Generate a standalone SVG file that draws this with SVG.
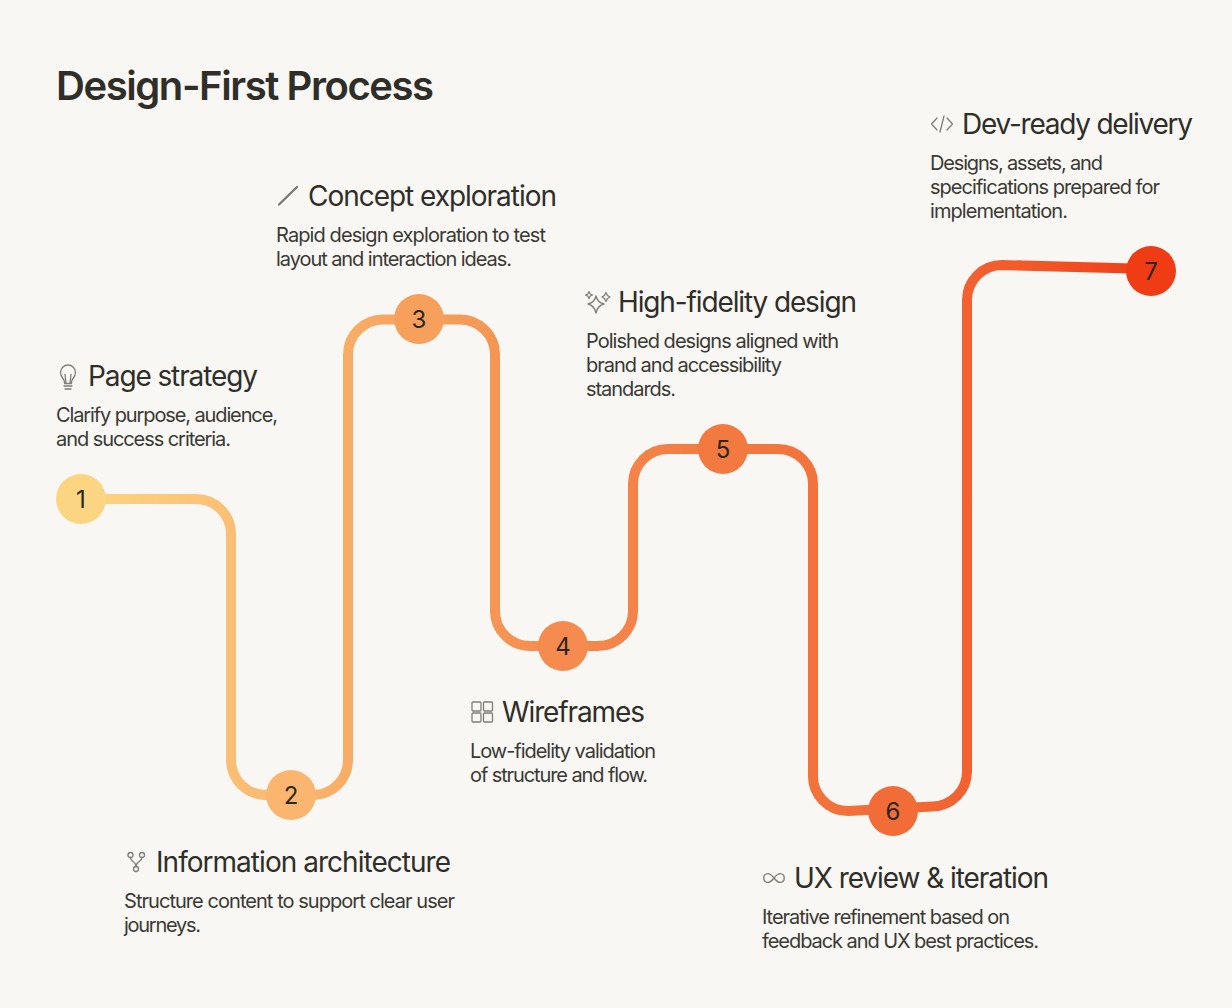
<svg xmlns="http://www.w3.org/2000/svg" width="1232" height="1008" viewBox="0 0 1232 1008">
<style>
text{font-family:Inter,"Liberation Sans",Arial,sans-serif;fill:#2f2e28}
.t{font-size:40px;font-weight:600}
.h{font-size:28px;font-weight:400}
.b{font-size:20px;fill:#3a3933;font-weight:400}
.n{font-size:24px;text-anchor:middle;fill:#2a2620}
.i{fill:none;stroke:#7f7e77;stroke-width:1.300;stroke-linecap:round;stroke-linejoin:round}
</style>
<defs>
<linearGradient id="g" gradientUnits="userSpaceOnUse" x1="81" y1="0" x2="1151" y2="0">
<stop offset="0" stop-color="#fcd583"/>
<stop offset="0.2" stop-color="#fab66e"/>
<stop offset="0.32" stop-color="#f6a05c"/>
<stop offset="0.45" stop-color="#f58b4e"/>
<stop offset="0.6" stop-color="#f27a41"/>
<stop offset="0.76" stop-color="#f26c38"/>
<stop offset="0.88" stop-color="#f25a2a"/>
<stop offset="1" stop-color="#ef3c14"/>
</linearGradient>
</defs>
<rect width="1232" height="1008" fill="#f8f7f3"/>
<text class="t" x="56" y="100" textLength="378">Design-First Process</text>
<g id="connectors">
<path fill="none" stroke="url(#g)" stroke-width="10" d="M81 499H196A35 35 0 0 1 231 534V760A35 35 0 0 0 266 795H313A35 35 0 0 0 348 760V354A35 35 0 0 1 383 319.500H460A35 35 0 0 1 495 354V611A35 35 0 0 0 530 646H598A35 35 0 0 0 633 611V484A35 35 0 0 1 668 449H778A35 35 0 0 1 813 484V775A35 35 0 0 0 848 811L932 806.500A35 35 0 0 0 967 771V300A35 35 0 0 1 1002 265L1151 269"/>
</g>
<g id="node1">
<circle cx="81" cy="499" r="25" fill="#fcd583"/><text class="n" x="81" y="508">1</text>
<path class="i" d="M64 386h8M65 389h6M64.500 383.500V382C64.500 379 60.500 377.500 60.500 372.500A7.500 7.500 0 0 1 75.500 372.500C75.500 377.500 71.500 379 71.500 382V383.500ZM66 383L65 374.500M70 383L71 374.500"/>
<text class="h" x="88" y="386" textLength="170">Page strategy</text>
<text class="b" x="56" y="422" textLength="222">Clarify purpose, audience,</text>
<text class="b" x="56" y="446" textLength="175">and success criteria.</text>
</g>
<g id="node2">
<circle cx="291" cy="795" r="25" fill="#fab66e"/><text class="n" x="291" y="804">2</text>
<g class="i"><circle cx="130.500" cy="855" r="2.500"/><circle cx="142" cy="855" r="2.500"/><circle cx="136" cy="869" r="2.500"/><path d="M130.500 857.500C130.500 862 136 861 136 866.500M142 857.500C142 862 136 861 136 866.500"/></g>
<text class="h" x="156" y="872" textLength="295">Information architecture</text>
<text class="b" x="124" y="908" textLength="331">Structure content to support clear user</text>
<text class="b" x="124" y="932" textLength="77">journeys.</text>
</g>
<g id="node3">
<circle cx="419" cy="319" r="25" fill="#f6a05c"/><text class="n" x="419" y="328">3</text>
<path d="M279 204.500L297 187" fill="none" stroke="#77766f" stroke-width="2.200" stroke-linecap="round"/>
<text class="h" x="308" y="206" textLength="249">Concept exploration</text>
<text class="b" x="276" y="242" textLength="270">Rapid design exploration to test</text>
<text class="b" x="276" y="266" textLength="236">layout and interaction ideas.</text>
</g>
<g id="node4">
<circle cx="563" cy="646" r="25" fill="#f58b4e"/><text class="n" x="563" y="655">4</text>
<g class="i"><rect x="472" y="702" width="9" height="9" rx="1"/><rect x="483.500" y="702" width="9" height="9" rx="1"/><rect x="472" y="713" width="9" height="9" rx="1"/><rect x="483.500" y="713" width="9" height="9" rx="1"/></g>
<text class="h" x="502" y="722" textLength="143">Wireframes</text>
<text class="b" x="470" y="758" textLength="186">Low-fidelity validation</text>
<text class="b" x="470" y="782" textLength="178">of structure and flow.</text>
</g>
<g id="node5">
<circle cx="723" cy="449" r="25" fill="#f27a41"/><text class="n" x="723" y="458">5</text>
<path class="i" d="M596 296C597 301 600 303 604 304C600 305 597 308 596 313C595 308 592 305 588 304C592 303 595 301 596 296ZM589 291.500L590.200 294L592.500 295L590.200 296L589 298.500L587.800 296L585.500 295L587.800 294ZM606 292.500L607.500 295.500L610 297L607.500 298.500L606 301.500L604.500 298.500L602 297L604.500 295.500Z"/>
<text class="h" x="618" y="312" textLength="239">High-fidelity design</text>
<text class="b" x="586" y="348" textLength="253">Polished designs aligned with</text>
<text class="b" x="586" y="372" textLength="196">brand and accessibility</text>
<text class="b" x="586" y="396" textLength="90">standards.</text>
</g>
<g id="node6">
<circle cx="893" cy="811" r="25" fill="#f26c38"/><text class="n" x="893" y="820">6</text>
<path class="i" d="M774 878C771 874 768 873 766 874C763 875 763 881 766 882C768 883 771 882 774 878C777 874 780 873 782 874C785 875 785 881 782 882C780 883 777 882 774 878Z"/>
<text class="h" x="794" y="888" textLength="255">UX review &amp; iteration</text>
<text class="b" x="762" y="924" textLength="248">Iterative refinement based on</text>
<text class="b" x="762" y="948" textLength="277">feedback and UX best practices.</text>
</g>
<g id="node7">
<circle cx="1151" cy="271" r="25" fill="#ef3c14"/><text class="n" x="1151" y="280">7</text>
<path class="i" d="M937 118L931.500 124L937 130M947 118L952.500 124L947 130M944 116L940 132"/>
<text class="h" x="962" y="134" textLength="231">Dev-ready delivery</text>
<text class="b" x="930" y="170" textLength="173">Designs, assets, and</text>
<text class="b" x="930" y="194" textLength="230">specifications prepared for</text>
<text class="b" x="930" y="218" textLength="138">implementation.</text>
</g>
</svg>
